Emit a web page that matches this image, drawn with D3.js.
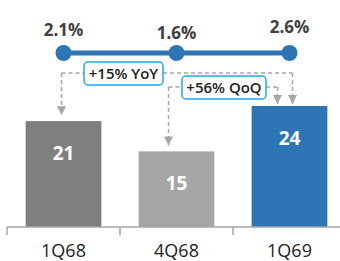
<!DOCTYPE html>
<html>
<head>
<meta charset="utf-8">
<script src="https://cdn.jsdelivr.net/npm/d3@7"></script>
<style>
  body { margin: 0; background: #fff; }
  svg { display: block; font-family: "Open Sans", sans-serif; }
</style>
</head>
<body>
<svg id="chart" width="340" height="261"></svg>
<script>
const categories = ["1Q68", "4Q68", "1Q69"];
const volumes = [21, 15, 24];
const rates = [2.1, 1.6, 2.6];
const rateLabels = ["2.1%", "1.6%", "2.6%"];
const barColors = ["#7f7f7f", "#a6a6a6", "#2e75b6"];
const changes = [
    { label: "+15% YoY", from: "1Q68", to: "1Q69" },
    { label: "+56% QoQ", from: "4Q68", to: "1Q69" }
];

const svg = d3.select("#chart");
const baseY = 227;

const x = d3.scaleBand().domain(categories).range([7, 346])
    .paddingInner(0.33).paddingOuter(0.165);
const y = d3.scaleLinear().domain([0, 24]).range([baseY, 106]);
const yLab = d3.scaleLinear().domain([1.6, 2.6]).range([33, 27]);
const cx = d => x(d) + x.bandwidth() / 2;
const halfGap = x.step() * x.paddingInner() / 2;

// bars
svg.selectAll(".bar").data(categories).enter().append("rect")
    .attr("x", d => x(d))
    .attr("width", x.bandwidth())
    .attr("y", (d, i) => y(volumes[i]))
    .attr("height", (d, i) => baseY - y(volumes[i]))
    .attr("fill", (d, i) => barColors[i]);

svg.selectAll(".bar-label").data(categories).enter().append("text")
    .attr("x", d => cx(d))
    .attr("y", (d, i) => y(volumes[i]) + 39)
    .attr("text-anchor", "middle")
    .attr("fill", "#fff")
    .attr("font-size", 19)
    .attr("font-weight", 700)
    .text((d, i) => volumes[i]);

// axis
const axis = svg.append("g").attr("stroke", "#a6a6a6").attr("stroke-width", 1.5);
axis.append("line").attr("x1", 7).attr("x2", 340).attr("y1", baseY).attr("y2", baseY);
axis.selectAll("line.tick").data(categories).enter().append("line")
    .attr("class", "tick")
    .attr("x1", d => x(d) - halfGap).attr("x2", d => x(d) - halfGap)
    .attr("y1", baseY).attr("y2", baseY + 8);

svg.selectAll(".cat").data(categories).enter().append("text")
    .attr("x", d => cx(d))
    .attr("y", 257)
    .attr("text-anchor", "middle")
    .attr("fill", "#222")
    .attr("font-size", 18)
    .text(d => d);

// rate line
const lineY = 53;
svg.append("path")
    .attr("d", d3.line().x(d => cx(d)).y(lineY)(categories))
    .attr("stroke", "#2e75b6").attr("stroke-width", 5).attr("fill", "none");
svg.selectAll(".dot").data(categories).enter().append("circle")
    .attr("cx", d => cx(d)).attr("cy", lineY).attr("r", 8)
    .attr("fill", "#2e75b6");
svg.selectAll(".rate").data(categories).enter().append("text")
    .attr("x", d => cx(d))
    .attr("y", (d, i) => yLab(rates[i]) + 6)
    .attr("text-anchor", "middle")
    .attr("fill", "#404040")
    .attr("font-size", 17)
    .attr("font-weight", 700)
    .text((d, i) => rateLabels[i]);

// change annotations
svg.append("defs").append("marker")
    .attr("id", "arrow").attr("viewBox", "0 0 10 10")
    .attr("refX", 10).attr("refY", 5)
    .attr("markerWidth", 9).attr("markerHeight", 9)
    .attr("markerUnits", "userSpaceOnUse")
    .attr("orient", "auto")
    .append("path").attr("d", "M0,0L10,5L0,10Z").attr("fill", "#a6a6a6");

const levels = [73, 87];
const toOffsets = [3, -12];
const boxes = [[84, 163], [182, 266]];

changes.forEach((c, k) => {
    const i0 = categories.indexOf(c.from), i1 = categories.indexOf(c.to);
    const x0 = cx(c.from) - 2 + (k ? -6 : 0);
    const x1 = cx(c.to) + toOffsets[k];
    const ly = levels[k];
    const dash = svg.append("g").attr("stroke", "#a6a6a6").attr("stroke-width", 1.5)
        .attr("stroke-dasharray", "4,3").attr("fill", "none");
    dash.append("path")
        .attr("d", `M${x0},${ly}H${boxes[k][0]}`);
    dash.append("path")
        .attr("d", `M${boxes[k][1]},${ly}H${x1}`);
    dash.append("path")
        .attr("d", `M${x0},${ly}V${y(volumes[i0]) - 6}`)
        .attr("marker-end", "url(#arrow)");
    dash.append("path")
        .attr("d", `M${x1},${ly}V${y(volumes[i1]) - 2}`)
        .attr("marker-end", "url(#arrow)");

    svg.append("rect")
        .attr("x", boxes[k][0]).attr("y", ly - 11)
        .attr("width", boxes[k][1] - boxes[k][0]).attr("height", 23)
        .attr("rx", 4)
        .attr("fill", "#fff").attr("stroke", "#1fa9e6").attr("stroke-width", 1.5);
    svg.append("text")
        .attr("x", (boxes[k][0] + boxes[k][1]) / 2).attr("y", ly + 5.5)
        .attr("text-anchor", "middle")
        .attr("fill", "#222").attr("font-size", 15).attr("font-weight", 600)
        .text(c.label);
});
</script>
</body>
</html>
